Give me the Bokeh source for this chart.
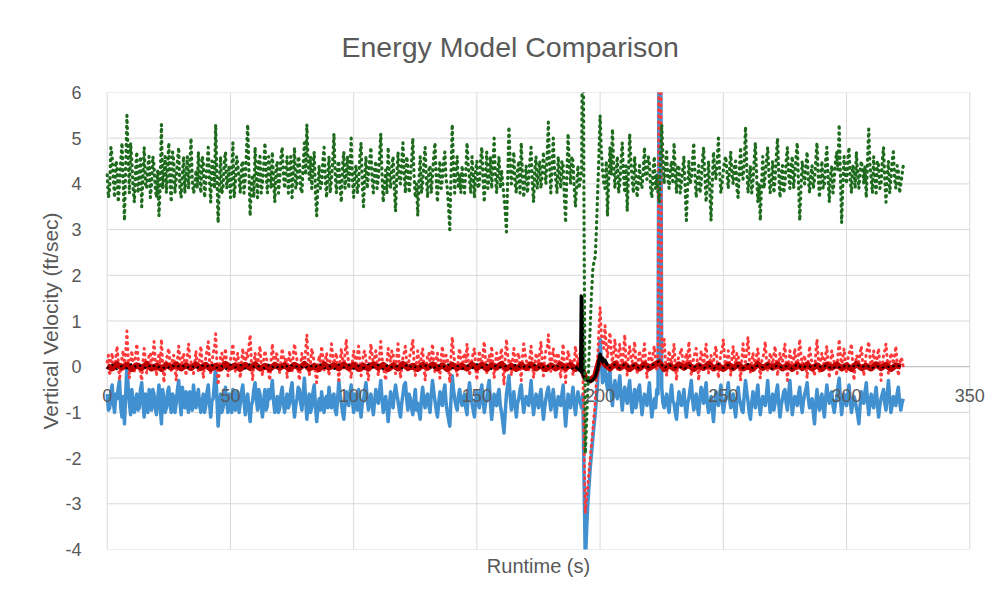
import numpy as np
from bokeh.plotting import figure
from bokeh.models import Range1d, FixedTicker, LinearAxis
from bokeh.embed import file_html
from bokeh.resources import INLINE

# ---------------- data ----------------
HALF_STEP = 0.5         # s, green / red / blue series (whole + half second samples)
SLOW_STEP = 2.0         # s, dark red / black series

# samples at whole seconds 0..323
green = [
    4.2, 3.9, 4.6, 3.7, 4.4, 4.0, 4.9, 3.2, 5.5, 3.8, 4.5, 3.6, 4.7, 4.1, 3.5, 4.8, 3.9, 4.6,
    4.0, 4.4, 3.7, 3.3, 5.3, 4.2, 3.8, 4.9, 3.6, 4.5, 4.1, 4.8, 3.7, 4.6, 4.2, 3.9, 5.0, 3.8,
    4.3, 4.7, 3.8, 4.5, 4.0, 4.8, 3.6, 4.4, 5.3, 3.15, 4.6, 3.9, 4.7, 4.1, 3.7, 4.9, 4.0, 4.4,
    3.8, 4.5, 4.1, 5.3, 3.3, 4.2, 4.8, 3.7, 4.6, 4.0, 4.9, 3.8, 4.3, 4.7, 3.6, 4.5, 4.1, 4.8,
    3.9, 4.6, 4.2, 3.7, 4.8, 4.0, 4.5, 3.8, 4.9, 5.3, 4.1, 3.9, 4.7, 3.3, 4.4, 4.0, 4.8, 3.7,
    4.6, 4.1, 5.1, 3.8, 4.5, 3.6, 4.7, 4.2, 3.9, 5.0, 3.7, 4.4, 4.0, 4.9, 3.5, 4.6, 4.2, 4.8,
    3.8, 4.5, 4.1, 5.1, 3.6, 4.3, 4.8, 3.9, 4.6, 3.4, 4.7, 4.0, 4.9, 3.8, 4.4, 4.1, 5.0, 3.7,
    3.3, 4.6, 4.0, 4.8, 3.7, 4.4, 4.2, 4.9, 3.6, 4.5, 4.1, 4.7, 3.9, 3.0, 5.3, 3.8, 4.6, 4.2,
    4.4, 3.8, 4.9, 4.1, 4.6, 3.7, 4.5, 4.0, 4.8, 3.6, 4.7, 4.2, 3.9, 5.0, 3.8, 4.6, 4.3, 3.7,
    2.95, 5.25, 4.0, 4.7, 3.8, 4.5, 4.9, 3.7, 4.4, 4.1, 4.8, 3.6, 4.6, 4.2, 3.9, 4.7, 4.0, 5.35,
    3.8, 5.0, 4.1, 4.6, 3.9, 4.4, 3.15, 5.1, 4.0, 4.5, 3.5, 4.4, 4.1, 9.0, -1.9, -0.5, 0.9, 2.1,
    2.4, 3.8, 5.5, 4.3, 3.9, 3.3, 4.8, 5.2, 3.9, 4.6, 4.0, 4.9, 3.8, 3.4, 5.1, 4.1, 4.6, 3.7,
    4.4, 3.9, 4.8, 4.1, 4.5, 3.7, 4.6, 4.2, 3.6, 5.3, 4.0, 4.7, 3.9, 4.5, 4.9, 3.8, 4.4, 4.0,
    4.6, 3.2, 4.5, 4.1, 4.9, 3.7, 4.4, 4.0, 4.8, 3.6, 4.5, 3.2, 4.7, 4.1, 5.0, 3.8, 4.3, 4.6,
    3.9, 4.7, 4.0, 4.5, 3.7, 4.8, 4.1, 5.25, 3.8, 4.4, 4.0, 4.9, 3.6, 3.2, 4.6, 4.2, 4.8, 3.8,
    4.5, 4.1, 5.0, 3.7, 4.4, 4.0, 4.8, 3.9, 4.6, 4.2, 4.9, 3.2, 4.5, 4.0, 4.7, 3.8, 4.4, 4.1,
    4.9, 3.7, 4.5, 4.0, 4.8, 3.6, 4.4, 4.1, 4.7, 5.3, 3.15, 4.6, 4.0, 4.8, 3.8, 4.3, 4.7, 3.9,
    4.5, 4.0, 3.7, 5.2, 4.1, 4.6, 3.8, 4.4, 4.0, 4.8, 3.6, 4.5, 4.1, 4.7, 3.9, 4.3, 4.0, 4.4,
]
# samples at half seconds 0.5..322.5
green_half = [
    3.7, 4.8, 4.1, 4.5, 3.6, 4.5, 4.0, 4.4, 4.6, 4.9, 3.9, 4.3, 3.8, 4.6, 4.2, 4.0, 4.4, 3.7,
    4.6, 3.9, 4.3, 4.0, 3.9, 4.6, 4.4, 4.0, 4.7, 3.8, 4.5, 3.9, 4.2, 3.8, 4.6, 4.4, 4.1, 3.9,
    3.9, 4.1, 4.6, 3.7, 4.4, 4.1, 4.5, 3.9, 4.2, 4.0, 3.8, 4.5, 3.9, 4.4, 4.2, 3.7, 4.6, 4.1,
    4.4, 3.8, 4.7, 4.3, 4.0, 3.7, 4.2, 4.5, 3.8, 4.4, 4.2, 4.6, 3.9, 4.1, 4.3, 3.8, 4.6, 4.2,
    4.3, 3.8, 4.6, 4.3, 3.9, 4.6, 3.9, 4.4, 4.2, 4.5, 4.6, 4.4, 3.8, 4.0, 3.9, 4.5, 4.1, 4.2,
    3.8, 4.5, 4.2, 4.4, 3.9, 4.4, 3.9, 4.6, 4.4, 4.1, 4.3, 3.8, 4.6, 4.0, 4.2, 3.9, 4.5, 4.1,
    4.3, 3.9, 4.6, 4.2, 4.0, 3.8, 4.2, 4.4, 3.9, 4.2, 4.1, 4.5, 4.2, 4.6, 3.8, 4.5, 4.2, 4.0,
    4.1, 3.8, 4.5, 4.1, 4.3, 3.8, 4.6, 4.1, 4.2, 3.9, 4.5, 4.1, 3.5, 4.2, 4.4, 4.3, 3.9, 3.8,
    4.0, 4.3, 4.4, 3.8, 4.2, 4.3, 3.9, 4.5, 4.1, 4.2, 3.9, 4.6, 4.4, 4.2, 4.3, 3.9, 4.0, 3.4,
    4.1, 4.5, 4.3, 4.0, 4.3, 3.8, 4.2, 4.1, 3.8, 4.5, 4.0, 4.3, 3.9, 4.5, 4.2, 4.3, 4.6, 4.4,
    4.4, 4.3, 3.8, 4.2, 4.5, 3.7, 4.2, 4.4, 4.6, 3.9, 4.0, 3.9, 4.3, 3.0, -1.2, 0.2, 1.6, 2.3,
    3.0, 4.6, 4.7, 4.0, 4.5, 4.1, 4.2, 4.4, 4.3, 3.8, 4.5, 4.2, 4.4, 4.2, 4.5, 3.8, 4.2, 4.0,
    4.0, 4.3, 4.2, 4.6, 3.9, 4.3, 3.9, 3.8, 4.5, 4.6, 4.4, 4.1, 4.3, 4.0, 4.3, 4.4, 3.8, 4.3,
    3.9, 3.9, 4.0, 4.5, 4.2, 4.1, 3.8, 4.5, 4.2, 4.0, 3.9, 4.0, 4.3, 4.5, 4.3, 4.0, 4.5, 4.2,
    4.3, 4.2, 4.4, 3.9, 4.3, 4.2, 4.5, 4.4, 4.1, 3.8, 4.5, 4.2, 4.0, 4.0, 3.9, 4.5, 4.2, 4.1,
    3.8, 4.6, 4.2, 4.2, 3.8, 4.5, 4.2, 4.4, 3.9, 4.6, 4.0, 3.9, 4.2, 4.4, 4.1, 4.2, 3.9, 4.5,
    4.2, 4.1, 3.9, 4.5, 4.1, 4.2, 3.8, 4.5, 4.3, 4.2, 4.0, 4.2, 4.5, 4.1, 4.4, 3.9, 4.2, 4.3,
    4.3, 4.4, 4.5, 4.4, 3.8, 4.1, 4.5, 3.9, 4.5, 4.1, 4.2, 3.8, 4.5, 4.1, 4.4, 3.8, 4.2,
]

red = [
    0.1, -0.2, 0.3, -0.1, 0.45, -0.3, 0.2, 0.0, 0.78, -0.25, 0.35, -0.1, 0.5, 0.05, -0.3, 0.4, -0.15, 0.25,
    -0.05, 0.55, -0.2, 0.3, 0.6, -0.35, 0.15, 0.4, -0.1, 0.25, -0.3, 0.45, 0.0, 0.3, -0.2, 0.5, 0.1, -0.15,
    0.35, -0.1, 0.45, -0.25, 0.2, 0.55, -0.15, 0.3, 0.72, -0.4, 0.25, 0.05, 0.4, -0.2, 0.15, 0.5, -0.1, 0.3,
    -0.25, 0.4, 0.05, 0.2, 0.7, -0.3, 0.3, -0.05, 0.45, -0.2, 0.35, 0.1, -0.3, 0.5, 0.0, 0.25, -0.15, 0.4,
    0.05, -0.25, 0.35, -0.1, 0.5, 0.15, -0.3, 0.3, 0.0, 0.7, -0.2, 0.4, 0.1, -0.35, 0.25, 0.45, -0.1, 0.3,
    -0.2, 0.5, 0.05, 0.3, -0.3, 0.4, -0.05, 0.6, 0.1, -0.25, 0.35, 0.0, 0.45, -0.2, 0.3, 0.15, -0.3, 0.5,
    0.05, 0.35, -0.2, 0.55, 0.0, -0.3, 0.4, 0.1, 0.3, -0.15, 0.5, -0.25, 0.2, 0.45, -0.1, 0.3, 0.6, -0.2,
    0.35, 0.0, 0.4, -0.3, 0.25, 0.1, 0.5, -0.15, 0.3, -0.25, 0.45, 0.05, 0.2, -0.35, 0.65, 0.1, -0.2, 0.4,
    -0.05, 0.3, 0.5, -0.2, 0.15, 0.4, -0.3, 0.35, 0.0, 0.55, -0.15, 0.25, 0.45, -0.25, 0.3, 0.05, 0.4, -0.4,
    0.6, 0.1, -0.2, 0.4, 0.0, 0.3, -0.3, 0.5, 0.15, -0.1, 0.45, -0.25, 0.3, 0.05, 0.55, -0.2, 0.35, 0.7,
    -0.1, 0.4, 0.05, 0.3, -0.25, 0.5, -0.35, 0.35, 0.1, -0.2, 0.45, 0.0, 0.3, -0.1, -3.2, -2.6, -2.0, -1.4,
    -0.8, 0.2, 1.3, 0.5, 0.9, 0.2, 0.75, 0.1, 0.6, -0.1, 0.5, 0.0, 0.7, -0.2, 0.45, 0.1, 0.55, -0.15,
    0.35, 0.0, 0.5, -0.25, 0.3, 0.1, 0.45, -0.1, 9.0, 0.2, 0.6, -0.2, 0.35, 0.05, 0.5, -0.3, 0.25, 0.4,
    -0.1, 0.3, 0.55, -0.2, 0.2, 0.4, -0.3, 0.35, 0.0, 0.5, -0.15, 0.25, 0.1, 0.45, -0.25, 0.3, 0.6, -0.1,
    0.35, -0.2, 0.45, 0.05, 0.25, -0.3, 0.5, 0.1, 0.65, -0.15, 0.3, 0.0, 0.4, -0.25, 0.2, 0.55, -0.1, 0.3,
    0.05, 0.45, -0.2, 0.3, 0.1, 0.5, -0.3, 0.35, 0.0, 0.4, -0.15, 0.6, 0.05, 0.25, -0.25, 0.45, 0.1, -0.2,
    0.6, -0.1, 0.3, 0.05, 0.45, -0.25, 0.35, 0.1, -0.2, 0.6, 0.0, 0.4, -0.15, 0.3, 0.5, -0.3, 0.25, 0.1,
    0.45, -0.2, 0.3, 0.55, -0.1, 0.35, 0.0, 0.4, -0.3, 0.25, 0.5, -0.15, 0.3, 0.05, 0.45, -0.2, 0.2, 0.0,
]
red_half = [
    0.25, 0.1, 0.0, 0.2, 0.1, -0.05, 0.35, 0.3, 0.2, 0.1, 0.05, 0.25, 0.2, -0.15, 0.1, 0.15, 0.05, 0.3,
    0.2, 0.15, 0.1, 0.0, 0.1, -0.05, 0.3, 0.05, 0.2, -0.05, 0.15, 0.2, 0.15, 0.05, 0.25, 0.2, -0.1, 0.1,
    0.05, 0.2, 0.1, 0.0, 0.35, 0.15, 0.1, 0.4, 0.1, -0.1, 0.3, 0.2, 0.05, 0.1, 0.3, 0.15, 0.2, 0.0,
    0.1, 0.15, 0.3, 0.45, 0.1, 0.05, 0.1, 0.25, 0.05, 0.15, 0.2, -0.15, 0.15, 0.2, 0.3, 0.05, 0.15, 0.2,
    0.2, 0.1, 0.05, 0.25, 0.3, -0.1, 0.05, 0.15, 0.35, 0.2, 0.1, 0.25, -0.15, 0.0, 0.1, 0.2, 0.15, 0.05,
    0.15, 0.25, 0.2, 0.0, 0.1, 0.15, 0.3, 0.25, -0.1, 0.1, 0.2, 0.25, 0.1, 0.05, 0.35, -0.1, 0.15, 0.25,
    0.2, 0.05, 0.25, 0.2, -0.15, 0.1, 0.2, 0.35, 0.05, 0.2, 0.1, 0.0, 0.3, 0.1, 0.15, 0.4, 0.1, 0.1,
    0.1, 0.25, 0.0, 0.05, 0.3, 0.2, 0.1, 0.15, 0.0, 0.2, 0.15, 0.25, -0.05, 0.2, 0.3, -0.05, 0.2, 0.15,
    0.2, 0.1, 0.15, 0.05, 0.3, 0.0, 0.1, 0.15, 0.3, 0.1, 0.15, 0.05, 0.1, 0.05, 0.2, 0.25, 0.0, 0.2,
    0.25, 0.15, 0.15, 0.1, 0.25, 0.0, 0.2, 0.3, 0.05, 0.2, 0.1, 0.05, 0.2, 0.3, 0.1, 0.15, 0.4, 0.25,
    0.2, 0.15, 0.25, 0.0, 0.15, 0.05, 0.1, 0.2, 0.15, 0.1, 0.2, 0.25, 0.15, -1.8, -2.9, -2.3, -1.7, -1.1,
    -0.3, 0.8, 0.7, 0.4, 0.45, 0.5, 0.3, 0.35, 0.2, 0.3, 0.15, 0.35, 0.1, 0.25, 0.2, 0.3, 0.1, 0.15,
    0.15, 0.3, 0.1, 0.05, 0.2, 0.3, 0.15, 0.2, 9.0, 0.4, 0.15, 0.1, 0.2, 0.25, 0.05, 0.1, 0.3, 0.15,
    0.15, 0.1, 0.2, 0.05, 0.3, 0.05, 0.1, 0.2, 0.25, 0.15, 0.1, 0.0, 0.3, 0.1, 0.05, 0.35, 0.2, 0.15,
    0.1, 0.2, 0.15, 0.3, 0.0, 0.15, 0.2, 0.35, 0.2, 0.1, 0.15, 0.25, 0.05, 0.1, 0.3, 0.15, 0.1, 0.2,
    0.25, 0.1, 0.1, 0.15, 0.3, 0.05, 0.1, 0.2, 0.15, 0.1, 0.3, 0.25, 0.15, 0.0, 0.15, 0.2, -0.05, 0.3,
    0.2, 0.15, 0.1, 0.25, 0.05, 0.1, 0.2, 0.05, 0.25, 0.25, 0.2, 0.05, 0.15, 0.35, 0.05, 0.0, 0.2, 0.3,
    0.1, 0.05, 0.4, 0.2, 0.15, 0.1, 0.25, 0.05, 0.0, 0.35, 0.15, 0.1, 0.2, 0.25, 0.1, 0.0, 0.15,
]

blue = [
    -0.6, -0.9, -0.4, -1.0, -0.7, -0.3, -1.1, -1.25, 0.05, -0.8, -0.5, -1.0, -0.6, -0.9, -0.35, -1.1, -0.7, -0.5,
    -0.95, -0.6, -1.05, -0.4, -1.25, -0.7, -0.9, -0.45, -1.0, -0.65, -0.8, -0.3, -1.05, -0.7, -0.55, -1.0, -0.75, -0.4,
    -0.9, -0.5, -1.0, -0.6, -0.85, -0.4, -1.1, -0.7, 0.0, -1.3, -0.6, -0.9, -0.45, -1.0, -0.7, -0.5, -0.95, -0.65,
    -0.8, -0.4, -1.05, -0.6, -1.2, -0.75, -0.35, -0.95, -0.6, -1.1, -0.5, -0.85, -0.7, -0.3, -1.0, -0.65, -0.9, -0.45,
    -1.0, -0.6, -0.8, -0.35, -1.1, -0.7, -0.5, -0.95, -0.25, -1.15, -0.6, -0.9, -0.4, -1.2, -0.7, -0.55, -1.0, -0.65,
    -0.45, -0.9, -0.6, -1.05, -0.3, -0.8, -1.15, -0.55, -0.85, -0.4, -1.0, -0.7, -0.5, -1.1, -0.75, -0.35, -0.95, -0.6,
    -1.05, -0.5, -0.8, -0.3, -1.0, -0.65, -1.2, -0.55, -0.9, -0.4, -0.75, -1.1, -0.6, -0.35, -0.95, -0.7, -1.05, -0.5,
    -0.8, -1.15, -0.45, -0.9, -0.6, -1.0, -0.3, -0.75, -1.1, -0.55, -0.85, -0.4, -1.0, -1.3, -0.2, -0.7, -0.95, -0.5,
    -0.85, -0.6, -1.05, -0.35, -0.8, -1.1, -0.55, -0.9, -0.4, -1.0, -0.7, -0.3, -1.15, -0.6, -0.85, -0.5, -1.0, -1.45,
    -0.6, -0.2, -0.95, -0.55, -1.1, -0.7, -0.4, -1.0, -0.65, -0.85, -0.3, -1.05, -0.6, -0.9, -0.5, -1.15, -0.7, -0.45,
    -0.95, -0.5, -1.1, -0.65, -0.85, -0.4, -1.3, -0.6, -0.9, -0.45, -1.05, -0.55, -0.8, -0.6, -4.3, -3.0, -2.2, -1.6,
    -1.05, -0.3, 0.6, -0.35, 0.05, -0.5, -0.1, -0.85, -0.3, -0.7, -0.2, -0.95, -0.45, -0.8, -0.3, -1.0, -0.5, -0.75,
    -0.4, -1.05, -0.6, -0.85, -0.35, -1.1, -0.7, -0.5, 9.0, -0.45, -0.9, -0.6, -1.0, -0.4, -0.8, -1.15, -0.55, -0.85,
    -0.5, -1.1, -0.7, -0.3, -0.95, -0.6, -1.05, -0.45, -0.8, -0.35, -1.0, -0.65, -1.2, -0.55, -0.85, -0.4, -1.0, -0.7,
    -0.35, -0.9, -0.6, -1.1, -0.45, -0.8, -1.0, -0.3, -0.75, -1.15, -0.55, -0.9, -0.4, -1.05, -0.65, -0.85, -0.3, -1.0,
    -0.6, -0.8, -0.4, -1.1, -0.7, -0.5, -0.95, -0.3, -1.05, -0.65, -0.85, -0.45, -1.0, -0.6, -0.35, -0.9, -0.7, -1.25,
    -0.5, -0.95, -0.6, -1.1, -0.4, -0.8, -0.55, -1.0, -0.7, -0.25, -1.05, -0.6, -0.85, -0.4, -1.0, -0.65, -0.9, -1.25,
    -0.55, -0.8, -0.35, -1.05, -0.6, -0.9, -0.45, -1.1, -0.7, -0.5, -0.95, -0.3, -1.0, -0.65, -0.85, -0.45, -0.95, -0.7,
]
blue_half = [
    -0.95, -0.55, -0.8, -0.6, -0.45, -0.9, -0.65, -0.6, -0.45, -1.05, -0.85, -0.7, -0.95, -0.5, -0.8, -0.6, -1.0, -0.7,
    -0.5, -0.9, -0.7, -0.85, -0.5, -1.0, -0.55, -0.85, -0.6, -1.0, -0.5, -0.75, -0.45, -0.9, -0.85, -0.55, -0.95, -0.7,
    -0.65, -0.85, -0.75, -1.0, -0.55, -0.8, -0.75, -0.35, -0.7, -0.9, -1.0, -0.6, -0.8, -0.6, -1.0, -0.8, -0.55, -1.0,
    -0.55, -0.75, -0.7, -0.95, -0.85, -0.5, -0.7, -0.5, -0.9, -0.75, -0.95, -0.5, -0.55, -0.75, -0.8, -1.0, -0.6, -0.8,
    -0.75, -0.9, -0.5, -0.8, -0.85, -0.45, -0.8, -0.6, -0.7, -0.8, -1.0, -0.55, -0.85, -0.9, -0.95, -0.8, -0.7, -0.9,
    -0.7, -0.65, -0.95, -0.7, -0.6, -1.0, -0.8, -0.75, -0.55, -0.75, -0.6, -0.95, -0.85, -0.8, -0.5, -0.7, -0.75, -0.85,
    -0.75, -0.7, -0.55, -0.7, -0.8, -0.9, -0.85, -0.75, -0.6, -0.6, -0.95, -0.8, -0.4, -0.7, -0.6, -0.9, -0.75, -0.95,
    -1.0, -0.7, -0.75, -0.65, -0.85, -0.6, -0.55, -0.95, -0.8, -0.75, -0.55, -0.8, -1.15, -0.7, -0.5, -0.85, -0.65, -0.7,
    -0.7, -0.9, -0.6, -0.6, -0.95, -0.75, -0.8, -0.55, -0.75, -0.8, -0.45, -0.8, -0.85, -0.8, -0.6, -0.85, -1.2, -1.0,
    -0.4, -0.65, -0.7, -0.85, -0.8, -0.5, -0.75, -0.8, -0.7, -0.6, -0.75, -0.8, -0.75, -0.65, -0.85, -0.9, -0.55, -0.7,
    -0.7, -0.8, -0.85, -0.75, -0.6, -0.9, -0.95, -0.75, -0.65, -0.8, -0.75, -0.7, -0.9, -2.5, -3.6, -2.6, -1.9, -1.3,
    -0.7, 0.2, 0.1, -0.2, -0.3, -0.2, -0.6, -0.5, -0.6, -0.4, -0.65, -0.6, -0.7, -0.5, -0.75, -0.7, -0.9, -0.5,
    -0.75, -0.8, -0.7, -0.6, -0.8, -0.85, -0.9, -0.6, 9.0, -0.8, -0.7, -0.85, -0.65, -0.75, -1.0, -0.8, -0.7, -0.75,
    -0.85, -0.8, -0.5, -0.7, -0.75, -0.9, -0.7, -0.6, -0.55, -0.8, -0.85, -0.9, -0.8, -0.7, -0.6, -0.75, -0.8, -0.55,
    -0.7, -0.65, -0.9, -0.75, -0.7, -0.95, -0.6, -0.55, -1.0, -0.8, -0.75, -0.6, -0.8, -0.8, -0.75, -0.6, -0.7, -0.8,
    -0.95, -0.55, -0.8, -0.85, -0.55, -0.8, -0.6, -0.7, -0.8, -0.75, -0.6, -0.8, -0.75, -0.5, -0.7, -0.8, -1.0, -0.8,
    -0.8, -0.7, -0.9, -0.7, -0.65, -0.6, -0.85, -0.8, -0.45, -0.7, -0.8, -0.75, -0.6, -0.75, -0.8, -0.75, -1.05, -0.85,
    -0.7, -0.55, -0.75, -0.8, -0.8, -0.65, -0.8, -0.85, -0.6, -0.8, -0.6, -0.7, -0.85, -0.75, -0.6, -0.75, -0.8,
]

# samples every 2 s, 0..322
dark_red = [
    0.02, -0.04, 0.05, -0.02, 0.04, -0.05, 0.03, -0.03, 0.06, -0.04, 0.02, -0.05, 0.04, -0.02, 0.05, -0.04, 0.03, -0.03,
    0.05, -0.03, 0.04, -0.05, 0.02, -0.04, 0.06, -0.02, 0.03, -0.05, 0.04, -0.03, 0.05, -0.04, 0.02, -0.05, 0.04, -0.02,
    0.03, -0.05, 0.04, -0.03, 0.06, -0.04, 0.02, -0.05, 0.05, -0.02, 0.03, -0.04, 0.05, -0.03, 0.04, -0.05, 0.02, -0.04,
    0.05, -0.02, 0.04, -0.05, 0.03, -0.04, 0.06, -0.03, 0.02, -0.05, 0.04, -0.02, 0.05, -0.04, 0.03, -0.05, 0.04, -0.03,
    0.02, -0.04, 0.05, -0.03, 0.04, -0.05, 0.03, -0.02, 0.06, -0.04, 0.02, -0.05, 0.04, -0.03, 0.05, -0.04, 0.03, -0.05,
    0.03, -0.04, 0.05, -0.03, 0.04, -0.05, 0.05, -0.25, -0.3, -0.2, 0.2, 0.05, -0.04, 0.06, -0.03, 0.04, -0.05, 0.03,
    -0.04, 0.05, -0.03, 0.04, 0.1, -0.05, 0.03, -0.04, 0.05, -0.02, 0.04, -0.05, 0.03, -0.03, 0.06, -0.04, 0.02, -0.05,
    0.04, -0.03, 0.05, -0.04, 0.02, -0.05, 0.06, -0.03, 0.04, -0.02, 0.05, -0.04, 0.03, -0.05, 0.04, -0.03, 0.05, -0.04,
    0.03, -0.05, 0.04, -0.02, 0.05, -0.04, 0.03, -0.05, 0.06, -0.03, 0.02, -0.04, 0.05, -0.03, 0.04, -0.05, 0.03, 0.0,
]

black = [
    -0.03, 0.05, -0.06, 0.02, -0.04, 0.07, -0.02, 0.04, -0.05, 0.06, -0.03, 0.02, -0.06, 0.04, -0.02, 0.05, -0.04, 0.03,
    -0.05, 0.04, -0.02, 0.06, -0.04, 0.03, -0.06, 0.05, -0.02, 0.04, -0.05, 0.07, -0.03, 0.02, -0.04, 0.06, -0.05, 0.03,
    -0.04, 0.06, -0.02, 0.03, -0.05, 0.04, -0.03, 0.07, -0.04, 0.02, -0.06, 0.05, -0.02, 0.04, -0.05, 0.03, -0.03, 0.06,
    -0.02, 0.04, -0.06, 0.05, -0.03, 0.02, -0.05, 0.06, -0.04, 0.03, -0.02, 0.05, -0.06, 0.04, -0.03, 0.07, -0.04, 0.02,
    -0.05, 0.03, -0.04, 0.06, -0.02, 0.05, -0.06, 0.04, -0.03, 0.02, -0.05, 0.06, -0.04, 0.03, -0.02, 0.05, -0.06, 0.04,
    -0.03, 0.05, -0.04, 0.02, -0.06, 0.0, -0.1, -0.28, -0.32, -0.22, 0.28, 0.15, -0.03, 0.05, -0.04, 0.06, -0.02, 0.04,
    -0.05, 0.03, -0.02, 0.06, 0.12, -0.04, 0.05, -0.03, 0.02, -0.06, 0.04, -0.02, 0.05, -0.04, 0.03, -0.05, 0.06, -0.03,
    0.04, -0.05, 0.02, -0.03, 0.06, -0.04, 0.03, -0.02, 0.05, -0.06, 0.04, -0.03, 0.02, -0.05, 0.06, -0.04, 0.03, -0.02,
    0.05, -0.03, 0.04, -0.06, 0.02, -0.04, 0.05, -0.03, 0.06, -0.02, 0.04, -0.05, 0.03, -0.04, 0.02, -0.03, 0.04, 0.0,
]

# black trace around the event near 192 s (finer timing)
black_event_t = [190, 191, 192, 192.3, 192.7, 193.2, 194, 195, 196, 197, 198, 199, 200, 201, 202, 203]
black_event_v = [0.0, -0.05, -0.1, 1.55, 1.5, -0.2, -0.28, -0.3, -0.32, -0.3, -0.22, -0.05, 0.28, 0.1, 0.15, 0.02]

x_tick_values = [0, 50, 100, 150, 200, 250, 300, 350]
x_tick_labels = ["0", "50", "100", "150", "200", "250", "300", "350"]
y_tick_values = [-4, -3, -2, -1, 0, 1, 2, 3, 4, 5, 6]
y_tick_labels = ["-4", "-3", "-2", "-1", "0", "1", "2", "3", "4", "5", "6"]

X_MIN, X_MAX = 0, 350
Y_MIN, Y_MAX = -4, 6


def merge_half_steps(whole, half):
    out = []
    for a, b in zip(whole, half):
        out += [a, b]
    out.append(whole[-1])
    return out


green_all = merge_half_steps(green, green_half)
red_all = merge_half_steps(red, red_half)
blue_all = merge_half_steps(blue, blue_half)
t_fast = np.arange(len(green_all)) * HALF_STEP
t_slow = np.arange(len(dark_red)) * SLOW_STEP

# ---------------- figure ----------------
FONT = "Liberation Sans"
GREY = "#595959"
GRID = "#d9d9d9"

# the frame is a little wider than 0..350 so the end tick labels on the zero line are not clipped
p = figure(width=999, height=606, x_range=Range1d(X_MIN - 8, X_MAX + 8), y_range=Range1d(Y_MIN, Y_MAX),
           output_backend="svg", toolbar_location=None,
           min_border_left=87, min_border_right=10, min_border_top=91, min_border_bottom=57,
           background_fill_color="white", border_fill_color="white")
p.outline_line_color = None
p.xgrid.visible = False
p.ygrid.visible = False

# plot-area grid limited to 0..350
n_y, n_x = len(y_tick_values), len(x_tick_values)
p.segment(x0=[X_MIN] * n_y, y0=y_tick_values, x1=[X_MAX] * n_y, y1=y_tick_values,
          line_color=GRID, line_width=1)
p.segment(x0=x_tick_values, y0=[Y_MIN] * n_x, x1=x_tick_values, y1=[Y_MAX] * n_x,
          line_color=GRID, line_width=1)
# horizontal axis line crossing at zero
p.segment(x0=[X_MIN], y0=[0], x1=[X_MAX], y1=[0], line_color="#bfbfbf", line_width=1)

# series
p.line(t_fast, blue_all, line_color="#4190d0", line_width=3.5, line_join="round")
p.line(t_fast, red_all, line_color="#ff3b3b", line_width=3.0, line_dash="1 5", line_cap="round", line_join="round")
p.line(t_slow, dark_red, line_color="#c00000", line_width=6, line_join="round")
p.line(t_slow, black, line_color="#000000", line_width=1.8, line_dash="1 5", line_cap="round")
p.line(black_event_t, black_event_v, line_color="#000000", line_width=3, line_join="round")
p.line(t_fast, green_all, line_color="#1e6b1e", line_width=3.2, line_dash="1 5", line_cap="round", line_join="round")

# y axis
yax = p.yaxis[0]
yax.ticker = FixedTicker(ticks=y_tick_values)
yax.major_label_overrides = {v: s for v, s in zip(y_tick_values, y_tick_labels)}
yax.major_tick_line_color = None
yax.minor_tick_line_color = None
yax.axis_line_color = None
yax.major_label_text_font = FONT
yax.major_label_text_font_size = "18px"
yax.major_label_text_color = GREY
yax.major_label_standoff = 0
yax.axis_label = "Vertical Velocity (ft/sec)"
yax.axis_label_text_font = FONT
yax.axis_label_text_font_size = "21px"
yax.axis_label_text_font_style = "normal"
yax.axis_label_text_color = GREY
yax.axis_label_standoff = 0

# x axis: tick labels hang on the zero line
xax = p.xaxis[0]
xax.fixed_location = 0
xax.ticker = FixedTicker(ticks=x_tick_values)
xax.major_label_overrides = {v: s for v, s in zip(x_tick_values, x_tick_labels)}
xax.axis_line_color = None
xax.major_tick_line_color = None
xax.minor_tick_line_color = None
xax.major_label_text_font = FONT
xax.major_label_text_font_size = "18px"
xax.major_label_text_color = GREY
xax.major_label_standoff = 16

# x axis title at the bottom
rt_axis = LinearAxis(ticker=FixedTicker(ticks=[]), axis_label="Runtime (s)",
                     axis_line_color=None, major_tick_line_color=None, minor_tick_line_color=None,
                     axis_label_text_font=FONT, axis_label_text_font_size="20px",
                     axis_label_text_font_style="normal", axis_label_text_color=GREY,
                     axis_label_standoff=5)
p.add_layout(rt_axis, "below")

# title
p.title.text = "Energy Model Comparison"
p.title.text_font = FONT
p.title.text_font_size = "28.5px"
p.title.text_font_style = "normal"
p.title.text_color = GREY
p.title.align = "left"
p.title.vertical_align = "middle"
p.title.offset = 254
p.title.standoff = 58

open("out.html", "w").write(file_html(p, INLINE))
